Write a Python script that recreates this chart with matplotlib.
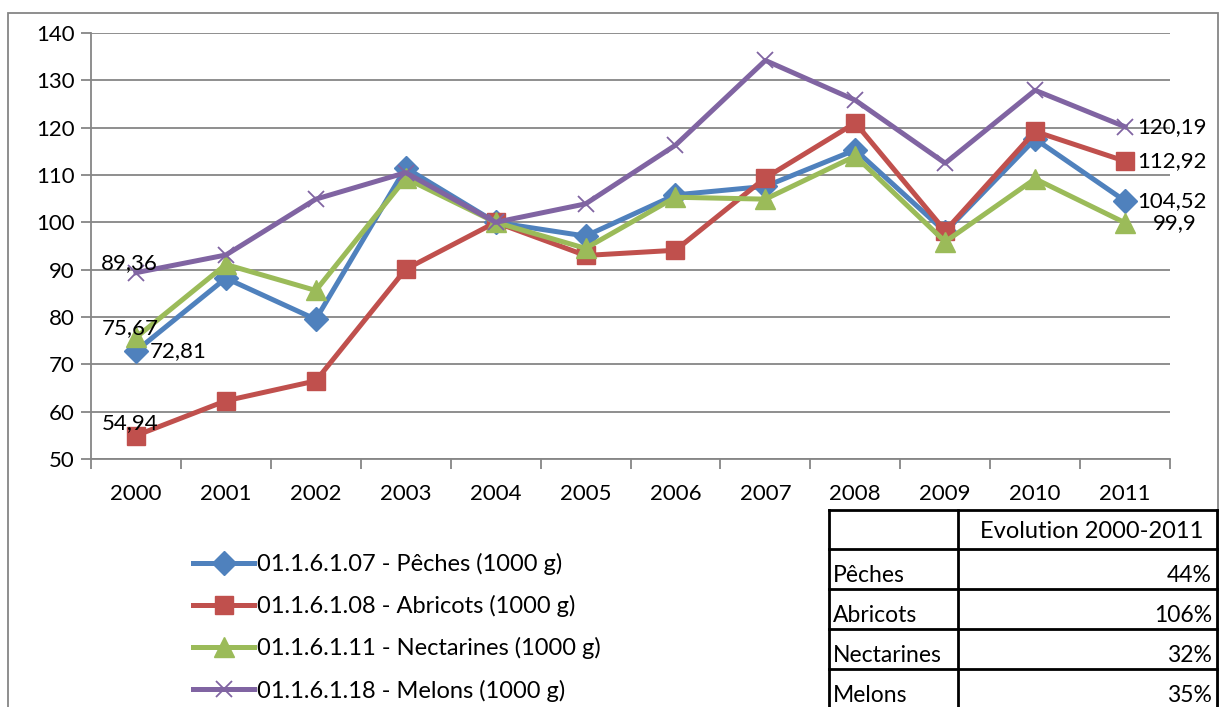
import numpy as np
import matplotlib
matplotlib.use('Agg')
import matplotlib.pyplot as plt
from matplotlib.lines import Line2D
from matplotlib.patches import Rectangle

plt.rcParams['font.family'] = ['Lato', 'DejaVu Sans']

years = ['2000', '2001', '2002', '2003', '2004', '2005', '2006', '2007', '2008', '2009', '2010', '2011']

peches = [72.81, 88.2, 79.5, 111.5, 100, 97.1, 105.8, 107.6, 115.3, 98.0, 117.6, 104.52]
abricots = [54.94, 62.3, 66.5, 90.1, 100, 93.0, 94.1, 109.4, 121.0, 98.2, 119.2, 112.92]
nectarines = [75.67, 91.1, 85.6, 109.3, 100, 94.5, 105.3, 104.9, 114.0, 95.9, 109.2, 99.9]
melons = [89.36, 93.1, 104.9, 110.5, 100, 103.9, 116.3, 134.2, 125.8, 112.5, 127.9, 120.19]

names = ['01.1.6.1.07 - Pêches (1000 g)', '01.1.6.1.08 - Abricots (1000 g)',
         '01.1.6.1.11 - Nectarines (1000 g)', '01.1.6.1.18 - Melons (1000 g)']

tab_rows = ['Pêches', 'Abricots', 'Nectarines', 'Melons']
tab_vals = ['44%', '106%', '32%', '35%']
tab_head = 'Evolution 2000-2011'

W, H = 1220, 707
fig = plt.figure(figsize=(12.2, 7.07), dpi=100)

def fx(px):
    return px / W

def fy(py):
    return 1 - py / H

# outer chart frame
fig.add_artist(Rectangle((fx(8), fy(712)), fx(1210), fy(13) - fy(712), transform=fig.transFigure,
                         fill=False, edgecolor='#868686', lw=1.3))

ax = fig.add_axes([fx(91), fy(459), fx(1170 - 91), fy(33) - fy(459)])

x = np.arange(len(years))
series = [
    (peches, '#4F81BD', 'D', 12),
    (abricots, '#C0504D', 's', 13.5),
    (nectarines, '#9BBB59', '^', 14),
    (melons, '#8064A2', 'x', 12),
]
handles = []
for (vals, col, mk, ms), nm in zip(series, names):
    h, = ax.plot(x, vals, color=col, lw=3.6, marker=mk, ms=ms, mew=1.3 if mk == 'x' else 1,
                 mec=col, mfc=col, label=nm, zorder=3)
    handles.append(h)

ax.set_xlim(-0.5, 11.5)
ax.set_ylim(50, 140)
ax.set_yticks(np.arange(50, 141, 10))
ax.set_xticks(x)
ax.set_xticklabels(years)
ax.set_xticks(np.arange(-0.5, 12, 1), minor=True)
ax.tick_params(axis='x', which='major', length=0, pad=18, labelsize=16)
ax.tick_params(axis='x', which='minor', length=7, width=1.3, color='#868686', direction='out')
ax.tick_params(axis='y', length=7, width=1.3, color='#868686', labelsize=16, pad=5)
ax.grid(axis='y', color='#868686', lw=1.3)
ax.set_axisbelow(True)
for s in ['top', 'right']:
    ax.spines[s].set_visible(False)
for s in ['left', 'bottom']:
    ax.spines[s].set_color('#868686')
    ax.spines[s].set_linewidth(1.3)

# data labels
lbl = dict(fontsize=16, color='black', textcoords='offset points')
ax.annotate('89,36', (0, melons[0]), xytext=(-5, 7), ha='center', va='center', **lbl)
ax.annotate('75,67', (0, nectarines[0]), xytext=(-4, 7), ha='center', va='center', **lbl)
ax.annotate('72,81', (0, peches[0]), xytext=(10, 0), ha='left', va='center', **lbl)
ax.annotate('54,94', (0, abricots[0]), xytext=(-4, 9), ha='center', va='center', **lbl)
ax.annotate('120,19', (11, melons[-1]), xytext=(9, 0), ha='left', va='center', **lbl)
ax.annotate('112,92', (11, abricots[-1]), xytext=(9, 0), ha='left', va='center', **lbl)
ax.annotate('104,52', (11, peches[-1]), xytext=(9, 0), ha='left', va='center', **lbl)
ax.annotate('99,9', (11, nectarines[-1]), xytext=(20, 0), ha='left', va='center', **lbl)

# legend
fig.legend(handles=handles, loc='upper left', bbox_to_anchor=(fx(193), fy(553)),
           frameon=False, fontsize=17, handlelength=2.6, handletextpad=0.1,
           labelspacing=0.85, borderaxespad=0, borderpad=0)

# table
xs = [829, 958, 1217]
ys = [510, 549, 589, 629, 669, 720]
for yy in ys:
    fig.add_artist(Line2D([fx(xs[0]), fx(xs[-1])], [fy(yy), fy(yy)], transform=fig.transFigure,
                          color='black', lw=2))
for xx in xs:
    fig.add_artist(Line2D([fx(xx), fx(xx)], [fy(ys[0]), fy(ys[-1])], transform=fig.transFigure,
                          color='black', lw=2))
fig.text(fx(1203), fy(532), tab_head, ha='right', va='center', fontsize=17)
for i, (r, v) in enumerate(zip(tab_rows, tab_vals)):
    yc = ys[i + 1] + 27
    fig.text(fx(833), fy(yc), r, ha='left', va='center', fontsize=16.5)
    fig.text(fx(1212), fy(yc), v, ha='right', va='center', fontsize=16.5)

fig.savefig('out.png', dpi=100)
